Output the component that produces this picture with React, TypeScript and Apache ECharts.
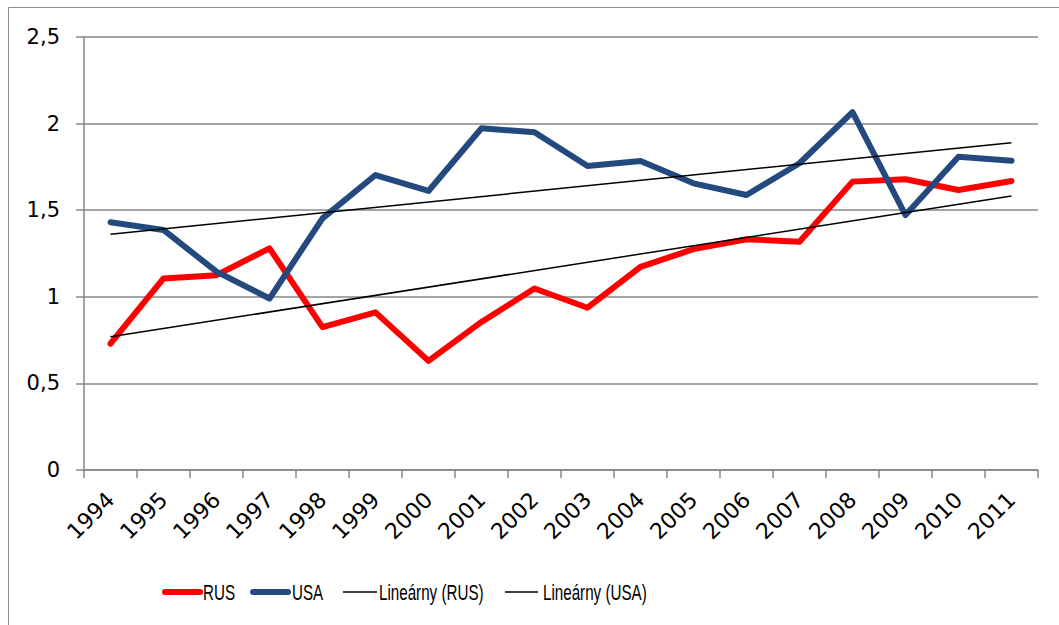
import React, { useEffect, useRef } from "react";
import * as echarts from "echarts";

const years = ["1994","1995","1996","1997","1998","1999","2000","2001","2002","2003","2004","2005","2006","2007","2008","2009","2010","2011"];
const rus = [0.73, 1.106, 1.125, 1.28, 0.825, 0.91, 0.63, 0.855, 1.048, 0.937, 1.173, 1.275, 1.332, 1.318, 1.665, 1.679, 1.617, 1.669];
const usa = [1.43, 1.386, 1.145, 0.99, 1.453, 1.703, 1.611, 1.973, 1.95, 1.755, 1.784, 1.655, 1.588, 1.771, 2.066, 1.472, 1.809, 1.786];
// trend line end points (1994, 2011)
const trendRusEnds = [0.769, 1.582];
const trendUsaEnds = [1.361, 1.89];
const yTicks = { min: 0, max: 2.5, interval: 0.5 };

const seriesNames = ["RUS", "USA", "Lineárny (RUS)", "Lineárny (USA)"];

function endsToSeries(ends: number[]) {
  return years.map((_, i) => (i === 0 ? ends[0] : i === years.length - 1 ? ends[1] : null));
}

export default function App() {
  const ref = useRef<HTMLDivElement>(null);
  useEffect(() => {
    if (!ref.current) return;
    const chart = echarts.init(ref.current, null, { renderer: "svg" });
    const axisFont = "DejaVu Sans";
    const gray = "#878787";
    const red = "#ff0000";
    const blue = "#23497e";
    const colors = [red, blue, "#000", "#000"];
    const widths = [6, 6, 1.6, 1.6];
    // legend layout (pixels)
    const legendY = 592;
    const iconX = [165, 253, 343, 505];
    const iconW = [35, 35, 34, 33];
    const textX = [203, 292, 379, 543];
    const legendGraphics: any[] = [];
    seriesNames.forEach((name, i) => {
      legendGraphics.push({
        type: "line",
        shape: { x1: iconX[i], y1: legendY, x2: iconX[i] + iconW[i], y2: legendY },
        style: { stroke: colors[i], lineWidth: widths[i], lineCap: i < 2 ? "round" : "butt" },
        silent: true,
      });
      legendGraphics.push({
        type: "text",
        x: textX[i],
        y: legendY,
        scaleX: 0.69,
        style: {
          text: name,
          fontFamily: "Liberation Sans",
          fontSize: 22,
          fill: "#000",
          textVerticalAlign: "middle",
          textAlign: "left",
        },
        silent: true,
      });
    });
    chart.setOption({
      animation: false,
      backgroundColor: "#ffffff",
      graphic: [
        {
          type: "rect",
          shape: { x: 8.5, y: 7.5, width: 1100, height: 700 },
          style: { fill: "none", stroke: "#8c8c8c", lineWidth: 1 },
          silent: true,
        },
        ...legendGraphics,
      ],
      grid: { left: 84, right: 21, top: 37, bottom: 155, containLabel: false },
      legend: { show: false, data: seriesNames },
      xAxis: {
        type: "category",
        data: years,
        boundaryGap: true,
        axisLine: { show: true, lineStyle: { color: gray, width: 1.5 } },
        axisTick: { show: true, length: 8, alignWithLabel: false, lineStyle: { color: gray, width: 1.5 } },
        axisLabel: {
          rotate: 45,
          margin: 26,
          interval: 0,
          fontFamily: axisFont,
          fontSize: 22,
          color: "#000",
        },
        splitLine: { show: false },
      },
      yAxis: {
        type: "value",
        min: yTicks.min,
        max: yTicks.max,
        interval: yTicks.interval,
        axisLine: { show: true, lineStyle: { color: gray, width: 1.5 } },
        axisTick: { show: true, length: 8, lineStyle: { color: gray, width: 1.5 } },
        axisLabel: {
          margin: 24,
          fontFamily: axisFont,
          fontSize: 21,
          color: "#000",
          formatter: (v: number) => String(v).replace(".", ","),
        },
        splitLine: { show: true, lineStyle: { color: gray, width: 1.5 } },
      },
      series: [
        {
          name: seriesNames[0],
          type: "line",
          data: rus,
          symbol: "none",
          lineStyle: { color: red, width: 6, cap: "round", join: "round" },
          itemStyle: { color: red },
          z: 3,
        },
        {
          name: seriesNames[1],
          type: "line",
          data: usa,
          symbol: "none",
          lineStyle: { color: blue, width: 6, cap: "round", join: "round" },
          itemStyle: { color: blue },
          z: 4,
        },
        {
          name: seriesNames[2],
          type: "line",
          data: endsToSeries(trendRusEnds),
          connectNulls: true,
          symbol: "none",
          lineStyle: { color: "#000", width: 1.5 },
          itemStyle: { color: "#000" },
          z: 5,
        },
        {
          name: seriesNames[3],
          type: "line",
          data: endsToSeries(trendUsaEnds),
          connectNulls: true,
          symbol: "none",
          lineStyle: { color: "#000", width: 1.5 },
          itemStyle: { color: "#000" },
          z: 5,
        },
      ],
    });
    return () => chart.dispose();
  }, []);
  return (
    <div
      ref={ref}
      style={{ position: "fixed", left: 0, top: 0, width: 1059, height: 625 }}
    />
  );
}
